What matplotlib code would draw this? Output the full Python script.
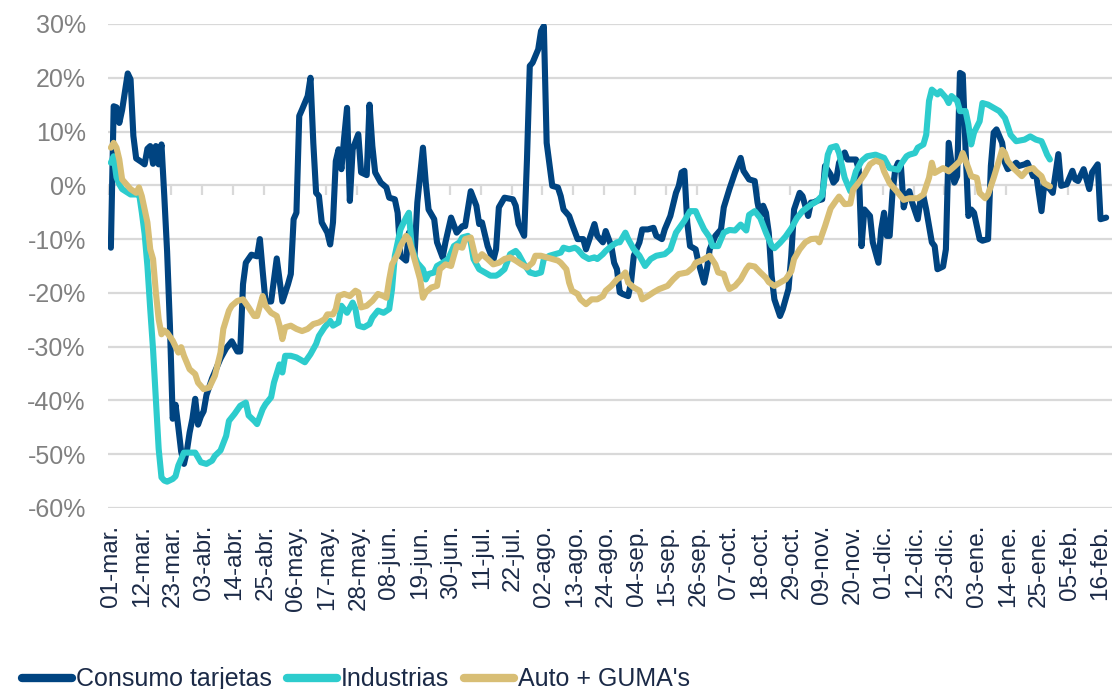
import matplotlib
matplotlib.use("Agg")
import matplotlib.pyplot as plt
from matplotlib.ticker import FuncFormatter, NullFormatter

# días desde el 01-mar-2020 y variación (%)
dias_tarj = [0, 1, 2, 3, 4, 6, 7, 8, 9, 11, 12, 13, 14, 15, 16, 17, 18, 19, 20, 21,
             22, 23, 24, 25, 26, 27, 28, 29, 30, 31, 32, 33, 34, 36, 39, 41, 43, 45, 46, 47,
             48, 50, 52, 53, 54, 55, 57, 59, 61, 63, 64, 65, 66, 67, 68, 70, 71, 72, 73, 74,
             75, 77, 78, 79, 80, 81, 82, 83, 84, 85, 86, 88, 89, 91, 92, 93, 94, 96, 98, 99,
             101, 102, 103, 105, 106, 108, 109, 111, 112, 113, 115, 116, 118, 119, 121, 123, 125, 126, 128, 130,
             131, 132, 134, 136, 137, 138, 140, 143, 144, 145, 147, 148, 149, 150, 152, 153, 154, 155, 157, 159,
             160, 161, 163, 164, 166, 168, 169, 172, 173, 175, 176, 178, 179, 180, 181, 182, 184, 185, 186, 188,
             189, 191, 193, 194, 196, 197, 199, 201, 202, 203, 204, 205, 206, 208, 209, 211, 212, 213, 215, 217,
             218, 220, 222, 224, 225, 227, 229, 230, 231, 232, 233, 234, 235, 236, 238, 239, 241, 242, 243, 245,
             246, 248, 249, 250, 251, 253, 254, 256, 257, 258, 259, 261, 262, 263, 265, 266, 267, 268, 270, 271,
             273, 274, 275, 276, 277, 278, 279, 280, 281, 282, 283, 284, 285, 287, 288, 289, 290, 292, 293, 294,
             296, 297, 298, 299, 300, 301, 302, 303, 304, 305, 306, 307, 309, 310, 312, 313, 314, 315, 317, 318,
             319, 320, 322, 323, 325, 326, 327, 328, 329, 331, 332, 334, 335, 337, 338, 340, 342, 343, 344, 346,
             348, 349, 351, 352, 354]
consumo_tarjetas = [-11.6, 14.7, 14.5, 11.6, 14.0, 20.8, 19.7, 9.2, 5.0, 4.3, 3.9, 6.8, 7.3, 4.0, 7.3, 3.9, 7.6, -2.0, -12.3, -26.0,
                    -43.4, -40.8, -45.0, -49.5, -51.8, -49.5, -46.0, -43.4, -39.7, -44.5, -43.0, -42.0, -39.0, -35.9, -32.2, -30.3, -29.0, -30.9, -30.9, -18.4,
                    -14.4, -12.9, -13.2, -10.0, -16.0, -21.6, -21.6, -13.6, -21.6, -18.4, -16.5, -6.3, -5.1, 12.9, 14.1, 16.6, 20.0, 7.9, -1.4, -2.0,
                    -6.9, -8.8, -11.0, -6.9, 4.5, 6.7, 3.0, 9.0, 14.4, -2.9, 6.7, 9.5, 2.4, 1.9, 15.0, 7.3, 2.4, 0.5, -0.4, -2.3,
                    -2.6, -5.1, -13.1, -14.0, -8.8, -13.1, -3.2, 7.0, 0.5, -4.5, -6.3, -10.6, -13.4, -10.6, -6.0, -8.8, -7.6, -7.6, -1.1, -3.8,
                    -7.2, -6.9, -11.3, -14.0, -11.9, -4.1, -2.3, -2.6, -3.8, -7.2, -9.4, 4.8, 22.2, 22.8, 25.3, 28.7, 29.6, 7.9, -0.1, -0.4,
                    -2.0, -4.5, -5.7, -7.2, -10.0, -10.0, -11.9, -7.2, -9.4, -10.6, -8.5, -11.3, -14.4, -15.6, -19.9, -20.2, -20.6, -18.1, -13.1, -10.6,
                    -8.2, -8.2, -7.9, -9.4, -10.0, -8.2, -5.7, -1.4, -0.1, 2.4, 2.7, -6.9, -11.3, -11.9, -14.4, -18.1, -15.6, -11.9, -9.4, -8.2,
                    -4.1, -0.7, 2.4, 5.1, 2.7, 1.1, 0.8, -3.2, -5.7, -3.8, -5.1, -8.8, -16.8, -21.2, -24.3, -23.0, -19.3, -13.1, -4.5, -1.4,
                    -2.0, -5.7, -3.2, -3.2, -2.9, -2.6, 3.6, 2.0, 0.5, 1.1, 4.2, 6.1, 4.8, 4.8, 4.8, 3.0, -11.3, -4.5, -5.7, -10.6,
                    -14.4, -8.2, -5.1, -9.4, -9.4, -1.4, 3.0, 4.2, 3.6, -4.1, -2.0, -1.1, -3.2, -6.3, -2.6, -2.0, -4.5, -10.6, -11.3, -15.6,
                    -15.1, -11.9, 7.9, 4.2, 0.5, 1.7, 20.9, 20.6, 6.7, -5.7, -4.5, -5.1, -10.0, -10.3, -10.0, 3.6, 9.8, 10.4, 7.9, 4.2,
                    3.0, 3.3, 4.2, 3.6, 3.9, 4.2, 3.0, 1.7, 2.4, -4.8, 0.2, -0.7, -1.4, 5.8, -0.1, 0.2, 2.7, 1.1, 0.8, 3.0,
                    -0.7, 2.4, 3.9, -6.3, -6.0]

dias_ind = [0, 1, 2, 3, 4, 7, 9, 10, 11, 12, 13, 14, 15, 16, 17, 18, 19, 20, 22, 23,
            24, 26, 28, 30, 32, 34, 36, 37, 39, 41, 42, 44, 46, 48, 49, 51, 52, 54, 55, 57,
            58, 60, 61, 62, 64, 66, 69, 71, 73, 74, 76, 78, 79, 81, 82, 84, 86, 87, 88, 90,
            92, 93, 95, 97, 99, 100, 101, 103, 105, 106, 107, 108, 109, 111, 112, 113, 115, 116, 118, 120,
            122, 124, 125, 127, 128, 129, 131, 133, 135, 137, 138, 140, 142, 144, 145, 147, 149, 151, 153, 154,
            156, 158, 160, 161, 163, 165, 166, 168, 170, 172, 173, 175, 176, 178, 180, 181, 183, 184, 186, 188,
            190, 192, 194, 197, 199, 201, 204, 206, 208, 209, 211, 213, 214, 216, 218, 220, 222, 224, 226, 227,
            229, 231, 233, 235, 236, 238, 240, 242, 244, 246, 249, 251, 253, 254, 255, 256, 258, 259, 261, 263,
            265, 267, 269, 272, 275, 277, 280, 281, 283, 284, 286, 287, 289, 290, 291, 292, 294, 295, 297, 298,
            299, 301, 302, 304, 305, 306, 307, 309, 310, 312, 314, 316, 318, 319, 320, 322, 325, 327, 329, 331,
            332, 333, 334]
industrias = [4.2, 5.4, 1.5, 0.2, -0.7, -1.7, -1.7, -1.4, -5.0, -9.0, -15.0, -23.0, -30.5, -39.8, -49.0, -54.3, -54.9, -55.1, -54.6, -54.1,
              -52.1, -49.7, -49.7, -49.7, -51.5, -51.8, -51.2, -50.3, -49.3, -46.6, -43.8, -42.5, -41.0, -40.4, -42.8, -43.8, -44.4, -41.6, -40.7, -39.4,
              -36.7, -33.3, -34.8, -31.7, -31.7, -32.0, -32.9, -31.4, -29.5, -28.0, -26.4, -25.2, -26.1, -25.5, -22.4, -23.7, -21.8, -23.0, -26.1, -26.4,
              -25.8, -24.6, -23.3, -23.7, -23.0, -19.3, -13.1, -8.2, -6.0, -5.1, -11.5, -13.1, -14.4, -15.6, -17.5, -16.5, -16.2, -15.0, -14.4, -13.7,
              -11.3, -10.6, -9.7, -9.4, -10.6, -13.7, -15.6, -16.2, -16.8, -16.8, -16.5, -15.6, -12.8, -12.2, -12.8, -14.7, -16.2, -16.5, -16.2, -13.7,
              -13.1, -12.8, -12.5, -11.6, -11.9, -11.6, -11.9, -13.1, -13.7, -13.4, -13.7, -12.8, -12.2, -11.3, -10.6, -10.6, -8.8, -10.0, -11.9, -13.1,
              -15.0, -13.7, -13.1, -12.8, -11.9, -8.8, -6.6, -4.8, -4.8, -6.0, -8.2, -9.7, -11.3, -11.3, -8.8, -8.3, -8.4, -7.3, -8.4, -5.5,
              -4.8, -6.1, -8.8, -11.2, -11.7, -10.7, -9.5, -8.0, -6.1, -4.8, -3.6, -3.0, -1.9, 2.0, 5.7, 7.0, 7.3, 6.0, 1.4, -1.1,
              2.6, 4.5, 5.4, 5.7, 5.1, 3.2, 2.9, 3.9, 5.4, 5.7, 6.0, 7.0, 7.6, 9.4, 15.7, 17.8, 16.9, 17.5, 16.3, 15.3,
              16.6, 15.7, 13.8, 13.8, 11.3, 7.6, 9.8, 11.9, 15.3, 15.0, 14.4, 13.8, 12.5, 11.0, 9.4, 8.2, 8.5, 9.1, 8.5, 8.2,
              7.0, 5.7, 4.8]

dias_auto = [0, 1, 2, 3, 4, 6, 7, 9, 10, 11, 13, 14, 15, 16, 17, 18, 19, 20, 22, 24,
             25, 26, 28, 30, 31, 33, 35, 37, 39, 40, 42, 43, 45, 47, 49, 51, 52, 54, 55, 57,
             59, 60, 61, 62, 64, 66, 68, 70, 72, 74, 76, 77, 79, 80, 81, 83, 85, 87, 88, 89,
             91, 93, 95, 97, 98, 99, 100, 102, 103, 105, 106, 108, 109, 110, 111, 112, 114, 116, 117, 119,
             121, 122, 123, 125, 126, 128, 129, 130, 132, 134, 136, 138, 140, 142, 144, 146, 148, 150, 151, 153,
             155, 157, 159, 160, 162, 163, 164, 166, 167, 169, 171, 173, 175, 176, 178, 180, 182, 183, 184, 186,
             188, 189, 191, 193, 195, 198, 200, 202, 205, 207, 208, 210, 212, 213, 215, 216, 218, 219, 220, 222,
             224, 226, 227, 229, 231, 233, 234, 236, 238, 240, 242, 243, 245, 247, 249, 251, 252, 254, 256, 258,
             259, 261, 263, 264, 266, 268, 270, 272, 274, 275, 277, 280, 282, 284, 287, 289, 291, 292, 293, 296,
             298, 300, 302, 303, 305, 306, 308, 309, 311, 312, 314, 316, 317, 318, 319, 321, 324, 326, 328, 329,
             331, 332, 334]
auto_gumas = [7.0, 7.9, 7.0, 4.8, 1.1, -0.1, -0.7, -1.4, -0.4, -2.0, -6.9, -11.9, -13.7, -19.9, -24.9, -27.7, -27.0, -27.4, -28.9, -31.1,
              -30.1, -31.7, -34.2, -35.1, -36.7, -37.9, -37.6, -35.4, -31.1, -26.7, -23.3, -22.4, -21.5, -21.2, -22.7, -24.3, -24.3, -20.6, -22.4, -23.7,
              -24.3, -26.1, -28.6, -26.4, -26.1, -26.7, -27.1, -26.7, -25.8, -25.5, -24.9, -24.0, -24.0, -23.0, -20.6, -20.2, -20.6, -19.6, -19.9, -22.7,
              -22.4, -21.5, -20.2, -20.6, -20.9, -17.5, -14.7, -12.8, -11.3, -9.4, -10.0, -13.7, -15.6, -17.5, -20.9, -19.9, -19.0, -18.7, -15.6, -14.7,
              -15.0, -13.1, -11.3, -11.6, -10.0, -9.7, -11.9, -14.0, -12.8, -13.7, -14.7, -14.4, -13.7, -13.4, -14.0, -14.7, -15.3, -14.4, -13.1, -13.1,
              -13.4, -13.7, -14.0, -14.4, -15.6, -18.1, -19.6, -20.2, -21.2, -22.1, -21.2, -21.2, -20.6, -19.6, -18.7, -17.5, -16.8, -16.2, -18.1, -19.0,
              -19.6, -21.2, -20.6, -19.9, -19.3, -18.7, -17.5, -16.5, -16.2, -15.3, -14.4, -14.0, -13.4, -13.1, -14.7, -16.2, -16.5, -18.1, -19.3, -18.7,
              -17.5, -15.6, -14.9, -15.1, -16.2, -17.2, -18.0, -18.7, -18.1, -17.5, -16.0, -13.7, -11.9, -10.6, -10.0, -9.9, -10.6, -7.6, -4.3, -2.8,
              -2.1, -3.5, -3.4, -0.8, 0.5, 2.0, 3.9, 4.6, 4.2, 2.6, 0.4, -1.4, -2.7, -2.4, -2.4, -1.7, 1.4, 4.2, 2.3, 3.2,
              2.6, 3.5, 4.5, 6.0, 3.2, 1.7, 1.4, -1.4, -2.4, -1.7, 1.4, 4.8, 6.6, 6.0, 4.5, 3.2, 1.7, 2.9, 3.2, 2.6,
              1.7, 0.4, -0.2]

ticks_dias = list(range(0, 353, 11))
ticks_txt = ["01-mar.", "12-mar.", "23-mar.", "03-abr.", "14-abr.", "25-abr.", "06-may.", "17-may.",
             "28-may.", "08-jun.", "19-jun.", "30-jun.", "11-jul.", "22-jul.", "02-ago.", "13-ago.",
             "24-ago.", "04-sep.", "15-sep.", "26-sep.", "07-oct.", "18-oct.", "29-oct.", "09-nov.",
             "20-nov.", "01-dic.", "12-dic.", "23-dic.", "03-ene.", "14-ene.", "25-ene.", "05-feb.", "16-feb."]

plt.rcParams['font.family'] = ['Liberation Sans', 'DejaVu Sans']
plt.rcParams['axes.unicode_minus'] = False

texto = "#1b2a47"
gris = "#d9d9d9"

fig = plt.figure(figsize=(11.14, 6.89), dpi=100)
ax = fig.add_axes([0.097, 0.2627, 0.901, 0.7025])

kw = dict(lw=4.4, solid_joinstyle='round', solid_capstyle='round')
ax.plot(dias_tarj, consumo_tarjetas, color="#004481", label="Consumo tarjetas", **kw)
ax.plot(dias_ind, industrias, color="#2dcccd", label="Industrias", **kw)
ax.plot(dias_auto, auto_gumas, color="#d8be75", label="Auto + GUMA's", **kw)

ax.set_ylim(-60, 30)
ax.set_xlim(-1, 356)
ax.set_yticks(range(-60, 31, 10))
ax.yaxis.set_major_formatter(FuncFormatter(lambda v, p: f"{v:.0f}%"))
ax.grid(axis='y', color=gris, lw=1.6)
ax.set_axisbelow(True)
for s in ax.spines.values():
    s.set_visible(False)
ax.tick_params(axis='y', length=0, pad=16, labelsize=18, labelcolor="#808080")

ax.set_xticks(ticks_dias)
ax.set_xticklabels(ticks_txt, rotation=90, va='top', ha='center')
ax.tick_params(axis='x', length=0, pad=12, labelsize=17.5, labelcolor=texto)

# eje horizontal en 0% con marcas de graduación (sin etiquetas)
sec = ax.secondary_xaxis(2 / 3)
sec.set_xticks([d - 0.5 for d in ticks_dias])
sec.xaxis.set_major_formatter(NullFormatter())
sec.tick_params(axis='x', which='both', length=7, width=1.6, color=gris, direction='out',
                bottom=True, top=False, labelbottom=False, labeltop=False)
for nombre, s in sec.spines.items():
    if nombre == 'bottom':
        s.set_color(gris)
        s.set_linewidth(1.6)
    else:
        s.set_visible(False)

leg = fig.legend(loc='center left', bbox_to_anchor=(0.02, 0.014), ncol=3, frameon=False,
                 fontsize=18, handlelength=2.0, handletextpad=0.15, columnspacing=0.6,
                 borderpad=0, borderaxespad=0)
for t in leg.get_texts():
    t.set_color(texto)
for h in leg.legend_handles:
    h.set_linewidth(6)

fig.savefig("out.png", dpi=100)
